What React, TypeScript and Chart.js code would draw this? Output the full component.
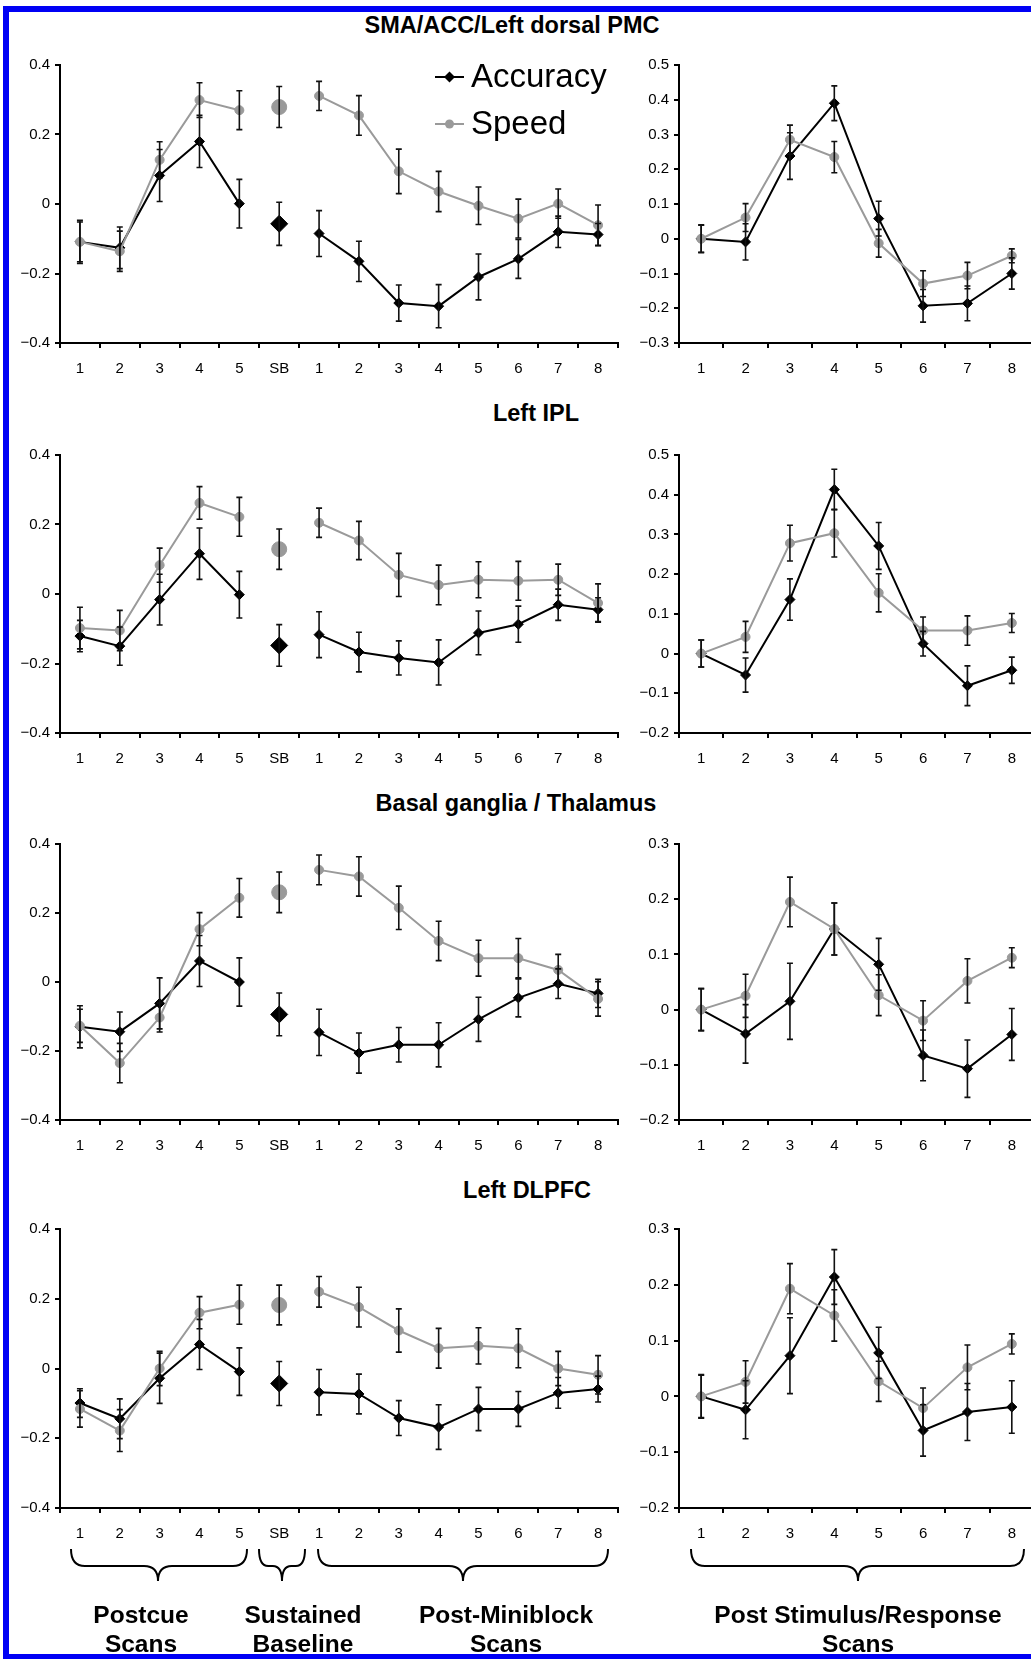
import React, { useEffect, useRef } from 'react';
import { Chart, registerables } from 'chart.js';

Chart.register(...registerables);

// ---------- categories / labels ----------
const LEFT_LABELS = ['1', '2', '3', '4', '5', 'SB', '1', '2', '3', '4', '5', '6', '7', '8'];
const RIGHT_LABELS = ['1', '2', '3', '4', '5', '6', '7', '8'];
const SB_INDEX = 5;
const SERIES_NAMES = ['Accuracy', 'Speed'];
const TITLES = ['SMA/ACC/Left dorsal PMC', 'Left IPL', 'Basal ganglia / Thalamus', 'Left DLPFC'];
const GROUP_LABELS = [
  ['Postcue', 'Scans'],
  ['Sustained', 'Baseline'],
  ['Post-Miniblock', 'Scans'],
  ['Post Stimulus/Response', 'Scans'],
];

// ---------- y ranges [min, max, step] ----------
const LEFT_Y = [-0.4, 0.4, 0.2];
const SMA_RIGHT_Y = [-0.3, 0.5, 0.1];
const IPL_RIGHT_Y = [-0.2, 0.5, 0.1];
const BG_RIGHT_Y = [-0.2, 0.3, 0.1];
const DL_RIGHT_Y = [-0.2, 0.3, 0.1];

// ---------- SMA/ACC/Left dorsal PMC ----------
const SMA_L_ACC = [-0.109, -0.126, 0.082, 0.18, 0.001, -0.057, -0.085, -0.165, -0.285, -0.294, -0.21, -0.158, -0.08, -0.088];
const SMA_L_ACC_ERR = [0.062, 0.06, 0.075, 0.075, 0.07, 0.062, 0.066, 0.058, 0.052, 0.062, 0.066, 0.056, 0.045, 0.032];
const SMA_L_SPD = [-0.109, -0.136, 0.127, 0.299, 0.27, 0.279, 0.311, 0.255, 0.094, 0.036, -0.005, -0.042, 0.001, -0.061];
const SMA_L_SPD_ERR = [0.057, 0.058, 0.052, 0.05, 0.056, 0.059, 0.042, 0.057, 0.064, 0.058, 0.054, 0.056, 0.042, 0.058];
const SMA_R_ACC = [0, -0.009, 0.238, 0.39, 0.058, -0.193, -0.186, -0.1];
const SMA_R_ACC_ERR = [0.039, 0.052, 0.067, 0.05, 0.05, 0.047, 0.05, 0.045];
const SMA_R_SPD = [0, 0.061, 0.285, 0.235, -0.013, -0.129, -0.106, -0.049];
const SMA_R_SPD_ERR = [0.04, 0.04, 0.042, 0.045, 0.04, 0.037, 0.038, 0.02];

// ---------- Left IPL ----------
const IPL_L_ACC = [-0.121, -0.15, -0.016, 0.116, -0.002, -0.148, -0.117, -0.167, -0.184, -0.197, -0.112, -0.087, -0.031, -0.045];
const IPL_L_ACC_ERR = [0.045, 0.055, 0.073, 0.074, 0.067, 0.06, 0.066, 0.057, 0.049, 0.065, 0.063, 0.052, 0.045, 0.034];
const IPL_L_SPD = [-0.098, -0.105, 0.083, 0.262, 0.222, 0.129, 0.205, 0.154, 0.055, 0.026, 0.041, 0.038, 0.041, -0.026];
const IPL_L_SPD_ERR = [0.06, 0.058, 0.049, 0.047, 0.056, 0.058, 0.042, 0.055, 0.062, 0.057, 0.052, 0.056, 0.045, 0.055];
const IPL_R_ACC = [0, -0.054, 0.136, 0.413, 0.271, 0.025, -0.081, -0.042];
const IPL_R_ACC_ERR = [0.034, 0.043, 0.052, 0.051, 0.059, 0.031, 0.05, 0.033];
const IPL_R_SPD = [0, 0.042, 0.278, 0.303, 0.153, 0.058, 0.058, 0.077];
const IPL_R_SPD_ERR = [0.034, 0.039, 0.045, 0.06, 0.048, 0.034, 0.037, 0.024];

// ---------- Basal ganglia / Thalamus ----------
const BG_L_ACC = [-0.13, -0.144, -0.062, 0.061, 0, -0.094, -0.146, -0.206, -0.182, -0.182, -0.108, -0.046, -0.005, -0.033];
const BG_L_ACC_ERR = [0.061, 0.057, 0.074, 0.074, 0.07, 0.062, 0.067, 0.058, 0.05, 0.064, 0.064, 0.055, 0.043, 0.041];
const BG_L_SPD = [-0.127, -0.235, -0.103, 0.153, 0.244, 0.26, 0.325, 0.306, 0.215, 0.119, 0.069, 0.069, 0.035, -0.049];
const BG_L_SPD_ERR = [0.048, 0.057, 0.042, 0.048, 0.056, 0.059, 0.043, 0.057, 0.063, 0.057, 0.052, 0.057, 0.045, 0.05];
const BG_R_ACC = [0, -0.044, 0.015, 0.146, 0.082, -0.083, -0.107, -0.045];
const BG_R_ACC_ERR = [0.038, 0.053, 0.069, 0.047, 0.047, 0.046, 0.052, 0.047];
const BG_R_SPD = [0, 0.025, 0.195, 0.146, 0.026, -0.02, 0.052, 0.094];
const BG_R_SPD_ERR = [0.038, 0.039, 0.045, 0.047, 0.037, 0.036, 0.04, 0.018];

// ---------- Left DLPFC ----------
const DL_L_ACC = [-0.099, -0.144, -0.028, 0.069, -0.009, -0.043, -0.068, -0.073, -0.142, -0.168, -0.116, -0.116, -0.07, -0.059];
const DL_L_ACC_ERR = [0.041, 0.057, 0.072, 0.072, 0.068, 0.063, 0.065, 0.057, 0.05, 0.064, 0.062, 0.05, 0.044, 0.037];
const DL_L_SPD = [-0.116, -0.178, 0, 0.16, 0.183, 0.182, 0.22, 0.176, 0.109, 0.058, 0.065, 0.058, 0, -0.018];
const DL_L_SPD_ERR = [0.052, 0.06, 0.049, 0.046, 0.056, 0.057, 0.044, 0.057, 0.062, 0.057, 0.052, 0.056, 0.049, 0.055];
const DL_R_ACC = [0, -0.024, 0.073, 0.214, 0.078, -0.061, -0.028, -0.019];
const DL_R_ACC_ERR = [0.039, 0.052, 0.068, 0.049, 0.046, 0.046, 0.051, 0.047];
const DL_R_SPD = [0, 0.026, 0.193, 0.145, 0.027, -0.021, 0.052, 0.094];
const DL_R_SPD_ERR = [0.038, 0.038, 0.045, 0.046, 0.036, 0.036, 0.04, 0.018];

// ---------- styling / layout ----------
const FONT = "'Liberation Sans', Arial, Helvetica, sans-serif";
const BLACK = '#000000';
const GRAY = '#9a9a9a';
const ROW_TOPS = [63, 453, 842, 1227];
const ROW_BOTTOMS = [343, 733, 1120, 1508];
const PAD_TOP = 12;
const X_AXIS_H = 38;

const errorBarPlugin = {
  id: 'errorBars',
  afterDatasetsDraw(chart: any) {
    const ctx = chart.ctx;
    const ys = chart.scales.y;
    chart.data.datasets.forEach((ds: any, di: number) => {
      if (!ds.errors) return;
      const meta = chart.getDatasetMeta(di);
      ds.data.forEach((v: number | null, i: number) => {
        if (v === null || v === undefined) return;
        const e = ds.errors[i];
        const pt = meta.data[i];
        if (!pt) return;
        const x = pt.x;
        const yt = ys.getPixelForValue(v + e);
        const yb = ys.getPixelForValue(v - e);
        ctx.save();
        ctx.strokeStyle = '#111';
        ctx.lineWidth = 1.6;
        ctx.beginPath();
        ctx.moveTo(x, yt);
        ctx.lineTo(x, yb);
        ctx.moveTo(x - 3, yt);
        ctx.lineTo(x + 3, yt);
        ctx.moveTo(x - 3, yb);
        ctx.lineTo(x + 3, yb);
        ctx.stroke();
        ctx.restore();
      });
    });
  },
};

const legendPlugin = {
  id: 'insideLegend',
  afterDraw(chart: any) {
    const ctx = chart.ctx;
    const items = [
      { label: SERIES_NAMES[0], color: BLACK, style: 'rectRot', y: 26 },
      { label: SERIES_NAMES[1], color: GRAY, style: 'circle', y: 73 },
    ];
    ctx.save();
    items.forEach((it) => {
      ctx.strokeStyle = it.color;
      ctx.lineWidth = 2;
      ctx.beginPath();
      ctx.moveTo(435, it.y);
      ctx.lineTo(464, it.y);
      ctx.stroke();
      ctx.fillStyle = it.color;
      ctx.beginPath();
      if (it.style === 'rectRot') {
        ctx.moveTo(449.5, it.y - 5.5);
        ctx.lineTo(455, it.y);
        ctx.lineTo(449.5, it.y + 5.5);
        ctx.lineTo(444, it.y);
        ctx.closePath();
      } else {
        ctx.arc(449.5, it.y, 4.5, 0, Math.PI * 2);
      }
      ctx.fill();
      ctx.fillStyle = BLACK;
      ctx.font = `33px ${FONT}`;
      ctx.textBaseline = 'middle';
      ctx.textAlign = 'left';
      ctx.fillText(it.label, 471, it.y + 1);
    });
    ctx.restore();
  },
};

function fmtTick(v: number) {
  const r = Math.round(v * 10) / 10;
  if (Math.abs(r) < 1e-9) return '0';
  return (r < 0 ? '\u2212' : '') + Math.abs(r).toFixed(1);
}

type PanelProps = {
  labels: string[];
  acc: number[];
  accErr: number[];
  spd: number[];
  spdErr: number[];
  yr: number[];
  sb: number | null;
  row: number;
  left: number;
  width: number;
  yAxisW: number;
  padRight: number;
  legend?: boolean;
};

function Panel(p: PanelProps) {
  const ref = useRef<HTMLCanvasElement>(null);
  const top = ROW_TOPS[p.row] - PAD_TOP;
  const height = PAD_TOP + (ROW_BOTTOMS[p.row] - ROW_TOPS[p.row]) + X_AXIS_H;

  useEffect(() => {
    if (!ref.current) return;
    const sb = p.sb;
    const lineOf = (vals: number[]) => vals.map((v, i) => (i === sb ? null : v));
    const sbOf = (vals: number[]) => vals.map((v, i) => (i === sb ? v : null));
    const datasets: any[] = [
      {
        label: SERIES_NAMES[1],
        data: lineOf(p.spd),
        errors: p.spdErr,
        borderColor: GRAY,
        backgroundColor: GRAY,
        borderWidth: 2,
        pointStyle: 'circle',
        pointRadius: 4.5,
        pointBorderWidth: 1,
        spanGaps: false,
      },
      {
        label: SERIES_NAMES[0],
        data: lineOf(p.acc),
        errors: p.accErr,
        borderColor: BLACK,
        backgroundColor: BLACK,
        borderWidth: 2,
        pointStyle: 'rectRot',
        pointRadius: 5,
        pointBorderWidth: 1,
        spanGaps: false,
      },
    ];
    if (sb !== null) {
      datasets.unshift({
        label: SERIES_NAMES[1] + ' SB',
        data: sbOf(p.spd),
        errors: p.spdErr,
        borderColor: GRAY,
        backgroundColor: GRAY,
        showLine: false,
        pointStyle: 'circle',
        pointRadius: 7.5,
        pointBorderWidth: 1,
      });
      datasets.push({
        label: SERIES_NAMES[0] + ' SB',
        data: sbOf(p.acc),
        errors: p.accErr,
        borderColor: BLACK,
        backgroundColor: BLACK,
        showLine: false,
        pointStyle: 'rectRot',
        pointRadius: 8.5,
        pointBorderWidth: 1,
      });
    }
    const plugins: any[] = [errorBarPlugin];
    if (p.legend) plugins.push(legendPlugin);
    const chart = new Chart(ref.current, {
      type: 'line',
      data: { labels: p.labels, datasets },
      plugins,
      options: {
        animation: false,
        responsive: false,
        maintainAspectRatio: false,
        devicePixelRatio: 1,
        events: [],
        layout: { padding: { top: PAD_TOP, right: p.padRight, left: 0, bottom: 0 } },
        plugins: { legend: { display: false }, tooltip: { enabled: false }, title: { display: false } },
        scales: {
          x: {
            type: 'category',
            offset: true,
            grid: {
              display: true,
              drawOnChartArea: false,
              drawTicks: true,
              tickLength: 5,
              color: BLACK,
              lineWidth: 2,
              offset: true,
            },
            border: { display: true, color: BLACK, width: 2 },
            ticks: {
              color: BLACK,
              font: { family: FONT, size: 15 },
              padding: 12,
              maxRotation: 0,
              autoSkip: false,
            },
            afterFit: (s: any) => {
              s.height = X_AXIS_H;
            },
          },
          y: {
            type: 'linear',
            min: p.yr[0],
            max: p.yr[1],
            grid: {
              display: true,
              drawOnChartArea: false,
              drawTicks: true,
              tickLength: 5,
              color: BLACK,
              lineWidth: 2,
            },
            border: { display: true, color: BLACK, width: 2 },
            ticks: {
              stepSize: p.yr[2],
              color: BLACK,
              font: { family: FONT, size: 15 },
              padding: 5,
              callback: (v: any) => fmtTick(Number(v)),
            },
            afterFit: (s: any) => {
              s.width = p.yAxisW;
            },
          },
        },
      } as any,
    });
    return () => chart.destroy();
  }, []);

  return (
    <canvas
      ref={ref}
      width={p.width}
      height={height}
      style={{ position: 'absolute', left: p.left, top, width: p.width, height, display: 'block' }}
    />
  );
}

function Brace({ x1, x2, tip }: { x1: number; x2: number; tip: number }) {
  const yTop = 1549;
  const yMid = 1566;
  const yTip = 1581;
  const r = Math.min(14, (tip - x1) / 2.5, (x2 - tip) / 2.5);
  const d = [
    `M ${x1} ${yTop}`,
    `Q ${x1} ${yMid} ${x1 + r} ${yMid}`,
    `L ${tip - r} ${yMid}`,
    `Q ${tip} ${yMid} ${tip} ${yTip}`,
    `Q ${tip} ${yMid} ${tip + r} ${yMid}`,
    `L ${x2 - r} ${yMid}`,
    `Q ${x2} ${yMid} ${x2} ${yTop}`,
  ].join(' ');
  return <path d={d} fill="none" stroke="#000" strokeWidth={2} />;
}

const TITLE_POS = [
  [512, 25],
  [536, 413],
  [516, 803],
  [527, 1190],
];
const GROUP_CENTERS = [141, 303, 506, 858];

export default function App() {
  const rows = [
    { L: [SMA_L_ACC, SMA_L_ACC_ERR, SMA_L_SPD, SMA_L_SPD_ERR], R: [SMA_R_ACC, SMA_R_ACC_ERR, SMA_R_SPD, SMA_R_SPD_ERR], ry: SMA_RIGHT_Y },
    { L: [IPL_L_ACC, IPL_L_ACC_ERR, IPL_L_SPD, IPL_L_SPD_ERR], R: [IPL_R_ACC, IPL_R_ACC_ERR, IPL_R_SPD, IPL_R_SPD_ERR], ry: IPL_RIGHT_Y },
    { L: [BG_L_ACC, BG_L_ACC_ERR, BG_L_SPD, BG_L_SPD_ERR], R: [BG_R_ACC, BG_R_ACC_ERR, BG_R_SPD, BG_R_SPD_ERR], ry: BG_RIGHT_Y },
    { L: [DL_L_ACC, DL_L_ACC_ERR, DL_L_SPD, DL_L_SPD_ERR], R: [DL_R_ACC, DL_R_ACC_ERR, DL_R_SPD, DL_R_SPD_ERR], ry: DL_RIGHT_Y },
  ];
  return (
    <div
      style={{
        position: 'absolute',
        left: 0,
        top: 0,
        width: 1031,
        height: 1659,
        overflow: 'hidden',
        background: '#fff',
        fontFamily: FONT,
      }}
    >
      <div
        style={{
          position: 'absolute',
          left: 3,
          top: 6,
          width: 1100,
          height: 1659 - 6 - 11,
          borderLeft: '6px solid #0000f5',
          borderTop: '6px solid #0000f5',
          borderBottom: '5px solid #0000f5',
        }}
      />
      {rows.map((r, i) => (
        <React.Fragment key={i}>
          <Panel
            labels={LEFT_LABELS}
            acc={r.L[0]}
            accErr={r.L[1]}
            spd={r.L[2]}
            spdErr={r.L[3]}
            yr={LEFT_Y}
            sb={SB_INDEX}
            row={i}
            left={0}
            width={630}
            yAxisW={60}
            padRight={12}
            legend={i === 0}
          />
          <Panel
            labels={RIGHT_LABELS}
            acc={r.R[0]}
            accErr={r.R[1]}
            spd={r.R[2]}
            spdErr={r.R[3]}
            yr={r.ry}
            sb={null}
            row={i}
            left={630}
            width={410}
            yAxisW={49}
            padRight={5}
          />
          <div
            style={{
              position: 'absolute',
              left: TITLE_POS[i][0],
              top: TITLE_POS[i][1] - 13,
              transform: 'translateX(-50%)',
              whiteSpace: 'nowrap',
              fontWeight: 'bold',
              fontSize: 23.5,
              lineHeight: '26px',
              color: '#000',
            }}
          >
            {TITLES[i]}
          </div>
        </React.Fragment>
      ))}
      <svg
        width={1031}
        height={1659}
        style={{ position: 'absolute', left: 0, top: 0, pointerEvents: 'none' }}
      >
        <Brace x1={71} x2={247} tip={158} />
        <Brace x1={259} x2={305} tip={282} />
        <Brace x1={318} x2={608} tip={463} />
        <Brace x1={691} x2={1024} tip={858} />
      </svg>
      {GROUP_LABELS.map((g, i) => (
        <div
          key={i}
          style={{
            position: 'absolute',
            left: GROUP_CENTERS[i],
            top: 1600,
            transform: 'translateX(-50%)',
            textAlign: 'center',
            whiteSpace: 'nowrap',
            fontWeight: 'bold',
            fontSize: 24.5,
            lineHeight: '29px',
            color: '#000',
          }}
        >
          {g[0]}
          <br />
          {g[1]}
        </div>
      ))}
    </div>
  );
}
